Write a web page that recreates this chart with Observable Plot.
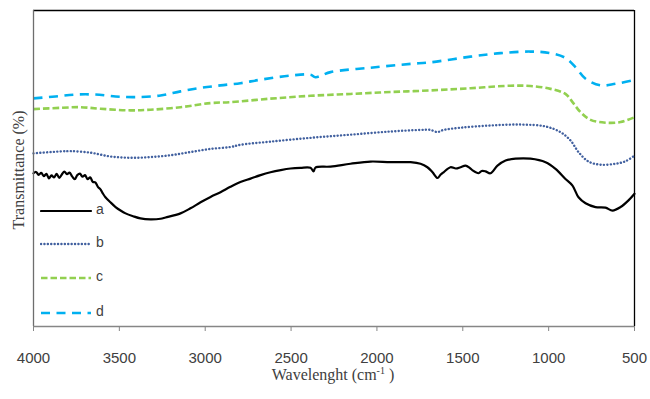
<!DOCTYPE html>
<html><head><meta charset="utf-8">
<script src="https://cdn.jsdelivr.net/npm/d3@7"></script>
<script src="https://cdn.jsdelivr.net/npm/@observablehq/plot@0.6"></script>
<style>
body{margin:0;background:#fff;}
#wrap{position:relative;width:650px;height:399px;overflow:hidden;}
#wrap svg.plot{position:absolute;left:0;top:0;}
.xtitle{position:absolute;left:0;width:666px;top:366px;text-align:center;font-family:"Liberation Serif",serif;font-size:16px;color:#404040;white-space:nowrap;}
.xtitle sup{font-size:10px;vertical-align:6px;line-height:0;}
.ytitle{position:absolute;left:19px;top:170px;transform:translate(-50%,-50%) rotate(-90deg);font-family:"Liberation Serif",serif;font-size:16px;color:#404040;white-space:nowrap;}
.legend{position:absolute;left:40px;top:0;font-family:"Liberation Sans",sans-serif;font-size:14px;color:#404040;}
.legend .item{position:absolute;left:0;height:14px;white-space:nowrap;}
.legend .item svg{position:absolute;left:0;top:0;}
.legend .item span{position:absolute;left:56px;top:-3px;}
</style></head><body><div id="wrap"></div>
<script>
// Series styling (names and legend)
const seriesNames = ["a", "b", "c", "d"];
const seriesColors = ["#000000", "#41609F", "#92D050", "#00B0F0"];
const seriesDash = [null, "0.1 3.3", "6.5 3", "9 6.5"];
const seriesWidths = [2.2, 2.4, 2.6, 2.6];
const seriesCaps = ["round", "round", "butt", "butt"];

// Axis
const xTicks = [4000, 3500, 3000, 2500, 2000, 1500, 1000, 500];
const xDomain = [4000, 500];
const yDomain = [0, 100];

// Curve a (black)
const waveA = [4000,3985,3970,3955,3940,3925,3910,3895,3880,3865,3850,3835,3820,3805,3790,3775,3760,3745,3730,3715,3700,3685,3670,3655,3640,3625,3610,3595,3581,3552,3522,3493,3464,3420,3377,3319,3260,3231,3144,3086,3027,2969,2911,2853,2795,2736,2678,2620,2560,2503,2445,2387,2369,2358,2270,2154,2037,1921,1804,1746,1706,1676,1647,1630,1612,1572,1540,1513,1484,1460,1443,1408,1390,1368,1339,1298,1251,1193,1106,1018,960,902,861,826,785,727,669,628,581,535,500];
const transA = [48.5,48.9,48.0,48.6,47.6,48.3,46.9,47.8,47.2,48.3,47.0,48.1,49.0,48.2,48.7,47.5,46.6,47.9,48.4,47.4,47.9,46.6,47.2,45.8,45.6,44.2,43.4,42.0,40.9,39.3,37.8,36.7,35.8,34.9,34.2,33.9,34.1,34.5,35.8,37.4,39.3,41.0,42.5,44.2,45.7,46.8,47.9,48.8,49.5,50.0,50.2,50.2,49.1,50.3,50.6,51.5,52.2,52.0,52.0,51.5,50.4,48.8,47.0,48.0,48.8,50.4,50.0,50.4,50.9,50.2,49.4,48.5,49.2,49.1,48.5,50.9,52.5,53.1,53.1,52.0,49.9,46.7,44.6,40.9,39.0,37.8,37.6,36.7,37.8,39.9,42.0];

// Curve b (dotted blue)
const waveB = [4000,3843,3785,3668,3552,3435,3319,3202,3086,2969,2853,2795,2620,2387,2154,1921,1746,1688,1647,1620,1513,1339,1164,1018,931,873,826,768,698,611,552,500];
const transB = [54.8,55.4,55.5,55.0,53.8,53.4,53.6,54.2,55.2,56.2,56.8,57.5,58.5,59.7,60.7,61.7,62.2,62.2,61.5,62.1,62.9,63.6,63.9,63.3,61.5,58.9,55.2,52.2,51.2,51.5,52.3,54.1];

// Curve c (green dashed)
const waveC = [4000,3843,3726,3610,3435,3319,3144,2969,2853,2620,2387,2154,1921,1688,1455,1222,1106,989,902,861,814,756,669,581,500];
const transC = [68.8,69.2,69.4,68.9,68.4,68.6,69.4,70.7,71.0,72.1,73.0,73.6,74.2,74.7,75.4,76.2,76.1,75.2,73.6,71.0,67.8,65.4,64.5,64.7,66.2];

// Curve d (cyan dashed)
const waveD = [4000,3872,3755,3639,3522,3406,3260,3144,3027,2911,2795,2678,2503,2387,2358,2270,2037,1804,1688,1455,1280,1106,989,902,844,785,698,611,500];
const transD = [72.2,72.8,73.4,73.4,72.8,72.6,73.1,74.4,75.5,76.3,77.0,78.1,79.4,79.7,78.9,80.5,81.9,83.1,83.6,85.4,86.5,87.0,86.5,85.0,82.1,78.4,76.3,76.8,78.0];

const waves = [waveA, waveB, waveC, waveD];
const trans = [transA, transB, transC, transD];
const curves = seriesNames.map((name, i) => waves[i].map((w, j) => ({w, t: trans[i][j], name})));

const lineMarks = curves.map((data, i) => Plot.line(data, {
  x: "w", y: "t", stroke: seriesColors[i], strokeWidth: seriesWidths[i],
  strokeDasharray: seriesDash[i] || undefined, strokeLinecap: seriesCaps[i],
  strokeLinejoin: "round", curve: "catmull-rom"
}));

const chart = Plot.plot({
  width: 650, height: 399,
  marginLeft: 33, marginRight: 16, marginTop: 10, marginBottom: 73,
  style: {background: "#fff", overflow: "visible"},
  x: {domain: xDomain, axis: null},
  y: {domain: yDomain, axis: null},
  marks: [
    Plot.ruleY([yDomain[1]], {stroke: "#000", strokeWidth: 1.3}),
    Plot.ruleX([xDomain[1]], {stroke: "#000", strokeWidth: 1.3}),
    ...lineMarks,
    Plot.ruleX([xDomain[0]], {stroke: "#6e6e6e", strokeWidth: 1.3}),
    Plot.ruleY([yDomain[0]], {stroke: "#868686", strokeWidth: 1.3}),
    Plot.axisX({ticks: xTicks, tickFormat: d => String(d), tickSize: 5, tickPadding: 21,
      stroke: "#868686", fill: "#404040", fontSize: 15, fontFamily: "Liberation Sans, sans-serif", label: null})
  ]
});
chart.classList.add("plot");
const wrap = document.getElementById("wrap");
wrap.appendChild(chart);

const xt = document.createElement("div");
xt.className = "xtitle";
xt.innerHTML = "Wavelenght (cm<sup>-1</sup> )";
wrap.appendChild(xt);

const yt = document.createElement("div");
yt.className = "ytitle";
yt.textContent = "Transmittance (%)";
wrap.appendChild(yt);

// Legend inside plot area
const legendTops = [204, 237, 271, 306];
const lg = document.createElement("div");
lg.className = "legend";
seriesNames.forEach((name, i) => {
  const it = document.createElement("div");
  it.className = "item";
  it.style.top = legendTops[i] + "px";
  const dash = seriesDash[i] ? `stroke-dasharray="${seriesDash[i]}"` : "";
  it.innerHTML = `<svg width="54" height="14"><line x1="1" x2="51" y1="7" y2="7" stroke="${seriesColors[i]}" stroke-width="${seriesWidths[i]}" stroke-linecap="${seriesCaps[i]}" ${dash}/></svg><span>${name}</span>`;
  lg.appendChild(it);
});
wrap.appendChild(lg);
</script>
</body></html>
